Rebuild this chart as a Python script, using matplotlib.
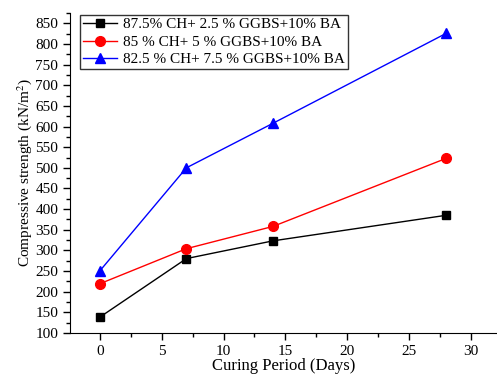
import matplotlib.pyplot as plt
from matplotlib.ticker import MultipleLocator

plt.rcParams['font.family'] = ['Liberation Serif', 'DejaVu Serif']
plt.rcParams['mathtext.fontset'] = 'stix'

days = [0, 7, 14, 28]
mix1 = [138, 280, 323, 385]
mix2 = [219, 304, 358, 523]
mix3 = [250, 500, 608, 826]
labels = ["87.5% CH+ 2.5 % GGBS+10% BA",
          "85 % CH+ 5 % GGBS+10% BA",
          "82.5 % CH+ 7.5 % GGBS+10% BA"]

fig = plt.figure(figsize=(4.97, 3.74), dpi=100)
ax = fig.add_axes([0.141, 0.11, 0.859, 0.855])

ax.plot(days, mix1, color='black', marker='s', markersize=6, lw=1, label=labels[0])
ax.plot(days, mix2, color='red', marker='o', markersize=7, lw=1, label=labels[1])
ax.plot(days, mix3, color='blue', marker='^', markersize=7, lw=1, label=labels[2])

ax.set_xlim(-2.4, 32.1)
ax.set_ylim(100, 875)
ax.xaxis.set_major_locator(MultipleLocator(5))
ax.xaxis.set_minor_locator(MultipleLocator(2.5))
ax.yaxis.set_major_locator(MultipleLocator(50))
ax.yaxis.set_minor_locator(MultipleLocator(25))
ax.tick_params(which='major', direction='out', length=5, width=1, labelsize=11)
ax.tick_params(which='minor', direction='out', length=3, width=1)

for s in ['top', 'right']:
    ax.spines[s].set_visible(False)

ax.set_xlabel("Curing Period (Days)", fontsize=12, labelpad=0)
ax.set_ylabel("Compressive strength (kN/m$^2$)", fontsize=11, labelpad=1)

leg = ax.legend(loc='upper left', bbox_to_anchor=(0.02, 1.0), fontsize=11,
                frameon=True, fancybox=False, edgecolor='black',
                borderpad=0.2, labelspacing=0.25, handlelength=2.2,
                handletextpad=0.4, borderaxespad=0.1)
leg.get_frame().set_linewidth(1)

plt.savefig("out.png", dpi=100)
plt.close()
